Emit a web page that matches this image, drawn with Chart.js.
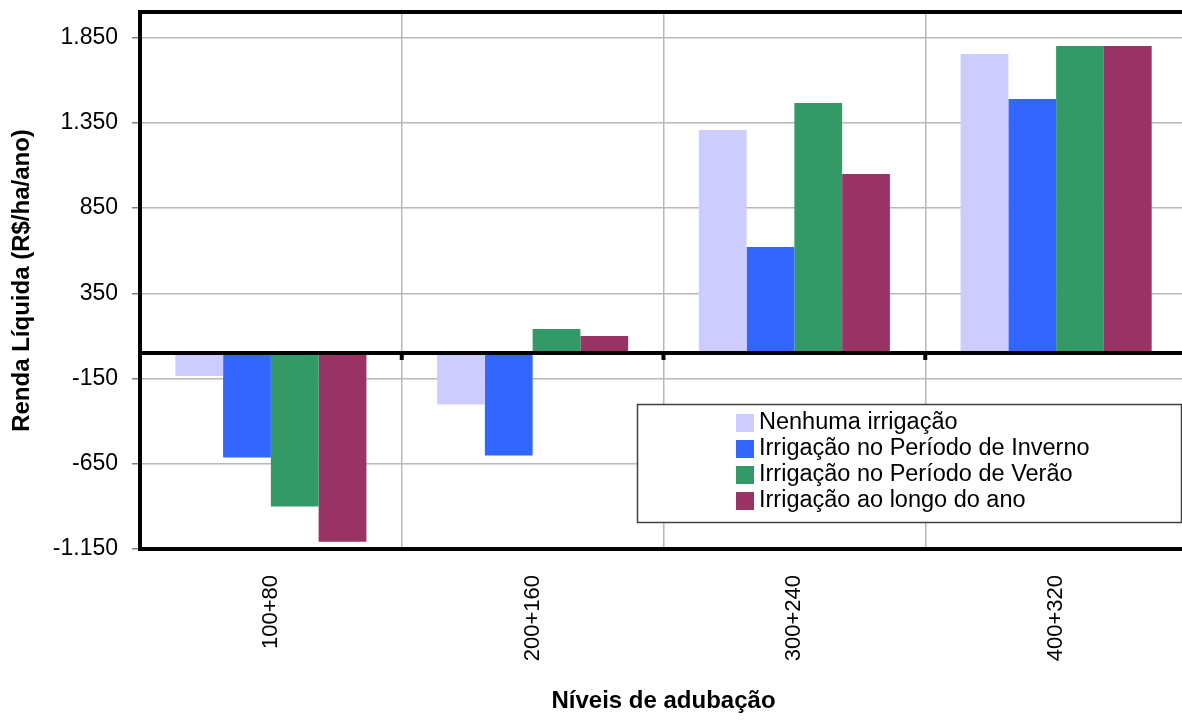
<!DOCTYPE html>
<html lang="pt">
<head>
<meta charset="utf-8">
<title>Renda Líquida por nível de adubação</title>
<script src="https://cdn.jsdelivr.net/npm/chart.js@4.4.1/dist/chart.umd.min.js"></script>
<style>
  html, body { margin: 0; padding: 0; background: #fff; overflow: hidden; }
  #wrap { position: relative; width: 1190px; height: 720px; }
</style>
</head>
<body>
<div id="wrap"><canvas id="c"></canvas></div>
<script>
// Níveis de adubação (categorias do eixo X)
const categories = ['100+80', '200+160', '300+240', '400+320'];

// Nomes das séries
const seriesNames = [
  'Nenhuma irrigação',
  'Irrigação no Período de Inverno',
  'Irrigação no Período de Verão',
  'Irrigação ao longo do ano'
];

// Renda líquida (R$/ha/ano) por série
const nenhuma = [-135, -303, 1308, 1754];
const inverno = [-614, -602, 622, 1490];
const verao   = [-901, 141, 1466, 1801];
const anoTodo = [-1107, 100, 1050, 1801];

// Marcas do eixo Y
const yTickValues = [-1150, -650, -150, 350, 850, 1350, 1850];
const yTickLabels = ['-1.150', '-650', '-150', '350', '850', '1.350', '1.850'];

const seriesColors = ['#CCCCFF', '#3366FF', '#339966', '#993366'];
const seriesValues = [nenhuma, inverno, verao, anoTodo];

const FONT = '"Liberation Sans", Arial, Helvetica, sans-serif';
Chart.defaults.font.family = FONT;
Chart.defaults.color = '#000';

// Linha do zero, moldura do gráfico e marcas nas divisões das categorias
const framePlugin = {
  id: 'frame',
  afterDatasetsDraw(chart) {
    const { ctx, chartArea: a, scales: { x, y } } = chart;
    ctx.save();
    const y0 = y.getPixelForValue(0);
    const step = x.getPixelForValue(1) - x.getPixelForValue(0);
    ctx.strokeStyle = '#000';
    ctx.fillStyle = '#000';
    ctx.lineWidth = 4;
    ctx.beginPath();
    ctx.moveTo(a.left, y0);
    ctx.lineTo(a.right, y0);
    ctx.stroke();
    for (let i = 0; i <= categories.length; i++) {
      const bx = x.getPixelForValue(i) - step / 2;
      ctx.fillRect(bx - 2, y0, 4, 7);
    }
    ctx.lineWidth = 4;
    ctx.strokeRect(a.left, a.top, a.right - a.left, a.bottom - a.top);
    ctx.restore();
  }
};

// Legenda em caixa dentro da área do gráfico
const boxLegendPlugin = {
  id: 'boxLegend',
  afterDraw(chart, args, opts) {
    const { ctx } = chart;
    ctx.save();
    ctx.fillStyle = '#fff';
    ctx.fillRect(opts.x, opts.y, opts.w, opts.h);
    ctx.strokeStyle = '#404040';
    ctx.lineWidth = 1.5;
    ctx.strokeRect(opts.x + 0.5, opts.y + 0.5, opts.w, opts.h);
    ctx.font = opts.fontSize + 'px ' + FONT;
    ctx.textBaseline = 'alphabetic';
    chart.data.datasets.forEach((ds, i) => {
      const top = opts.y + opts.firstTop + i * opts.rowStep;
      ctx.fillStyle = ds.backgroundColor;
      ctx.fillRect(opts.x + opts.swatchX, top, opts.swatch, opts.swatch);
      ctx.fillStyle = '#000';
      ctx.fillText(ds.label, opts.x + opts.textX, top + 15);
    });
    ctx.restore();
  }
};

new Chart(document.getElementById('c'), {
  type: 'bar',
  data: {
    labels: categories,
    datasets: seriesNames.map((name, i) => ({
      label: name,
      data: seriesValues[i],
      backgroundColor: seriesColors[i],
      borderWidth: 0,
      categoryPercentage: 0.73,
      barPercentage: 1.0
    }))
  },
  options: {
    responsive: true,
    maintainAspectRatio: false,
    animation: false,
    devicePixelRatio: 1,
    layout: { padding: { top: 12, right: 3, bottom: 0, left: 0 } },
    plugins: {
      legend: { display: false },
      tooltip: { enabled: false },
      boxLegend: {
        x: 637, y: 404, w: 544, h: 118,
        swatchX: 99, textX: 122, swatch: 18,
        firstTop: 10, rowStep: 26, fontSize: 23.5
      }
    },
    scales: {
      x: {
        grid: { display: true, color: '#b8b8b8', lineWidth: 1.5, drawTicks: false, offset: true },
        border: { display: false },
        ticks: {
          font: { size: 22 },
          color: '#000',
          minRotation: 90,
          maxRotation: 90,
          padding: 26,
          autoSkip: false
        },
        title: {
          display: true,
          text: 'Níveis de adubação',
          font: { size: 24, weight: 'bold' },
          color: '#000',
          padding: { top: 0, bottom: 4 }
        },
        afterFit(scale) {
          scale.height = 171;
          scale.paddingLeft = 0;
          scale.paddingRight = 0;
        }
      },
      y: {
        min: -1150,
        max: 2000,
        grid: { color: '#b8b8b8', lineWidth: 1.5, drawTicks: true, tickLength: 8, tickColor: '#808080', tickWidth: 1.5 },
        border: { display: false },
        afterBuildTicks(scale) {
          scale.ticks = yTickValues.map(v => ({ value: v }));
        },
        ticks: {
          font: { size: 23 },
          color: '#000',
          padding: 14,
          callback: (value) => yTickLabels[yTickValues.indexOf(value)]
        },
        title: {
          display: true,
          text: 'Renda Líquida (R$/ha/ano)',
          font: { size: 24, weight: 'bold' },
          color: '#000',
          padding: { top: 8, bottom: 0 }
        },
        afterFit(scale) {
          scale.width = 140;
          scale.paddingTop = 0;
          scale.paddingBottom = 0;
        }
      }
    }
  },
  plugins: [framePlugin, boxLegendPlugin]
});
</script>
</body>
</html>
